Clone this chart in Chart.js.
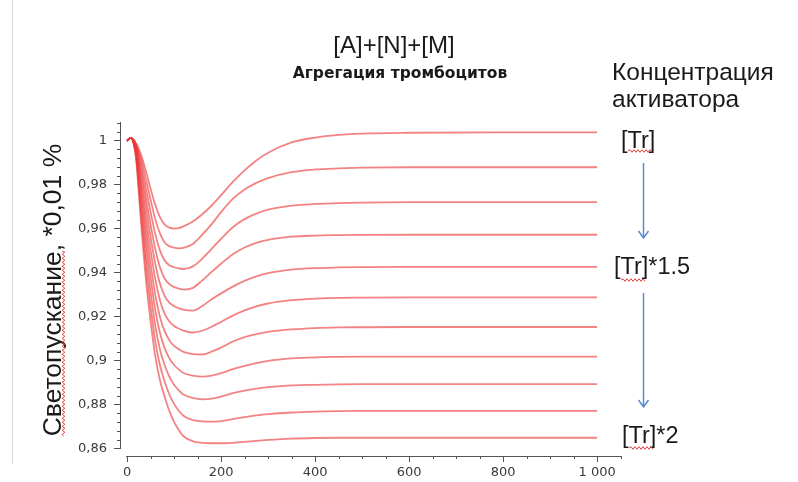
<!DOCTYPE html>
<html lang="ru">
<head>
    <meta charset="UTF-8">
    <title>Агрегация тромбоцитов</title>
    <script src="https://cdn.jsdelivr.net/npm/chart.js"></script>
    <style>
        html, body {
            margin: 0;
            padding: 0;
            background: #fff;
        }
        .chart-box {
            position: relative;
            width: 798px;
            height: 482px;
        }
    </style>
</head>
<body>
    <div class="chart-box">
        <canvas id="aggChart"></canvas>
    </div>

    <script>
        // время, с
        const times = [0, 8, 15, 20, 25, 30, 35, 40, 45, 50, 60, 70, 80, 90, 100, 110, 120, 140, 160, 180, 200, 225, 250, 275, 300, 350, 400, 450, 500, 600, 800, 1000];

        // светопускание для концентраций активатора от [Tr] до [Tr]*2
        const curve1  = [1.000, 1.0013, 1.0002, 0.9985, 0.9962, 0.9935, 0.9900, 0.9862, 0.9822, 0.9782, 0.9708, 0.9652, 0.9618, 0.9604, 0.9600, 0.9602, 0.9610, 0.9632, 0.9665, 0.9705, 0.9752, 0.9812, 0.9865, 0.9910, 0.9945, 0.9992, 1.0014, 1.0026, 1.0032, 1.0036, 1.0038, 1.0038];
        const curve2  = [1.000, 1.0013, 0.9999, 0.9980, 0.9950, 0.9915, 0.9872, 0.9825, 0.9778, 0.9731, 0.9643, 0.9578, 0.9537, 0.9520, 0.9513, 0.9510, 0.9512, 0.9530, 0.9572, 0.9620, 0.9675, 0.9735, 0.9778, 0.9808, 0.9830, 0.9857, 0.9869, 0.9874, 0.9877, 0.9879, 0.9879, 0.9879];
        const curve3  = [1.000, 1.0013, 0.9998, 0.9974, 0.9935, 0.9892, 0.9840, 0.9785, 0.9730, 0.9676, 0.9576, 0.9501, 0.9455, 0.9433, 0.9424, 0.9419, 0.9416, 0.9428, 0.9463, 0.9508, 0.9553, 0.9606, 0.9643, 0.9668, 0.9686, 0.9704, 0.9712, 0.9716, 0.9718, 0.9720, 0.9720, 0.9720];
        const curve4  = [1.000, 1.0013, 0.9996, 0.9967, 0.9919, 0.9866, 0.9806, 0.9742, 0.9680, 0.9619, 0.9507, 0.9424, 0.9373, 0.9347, 0.9334, 0.9327, 0.9322, 0.9330, 0.9364, 0.9403, 0.9440, 0.9483, 0.9514, 0.9535, 0.9549, 0.9563, 0.9568, 0.9570, 0.9571, 0.9572, 0.9572, 0.9572];
        const curve5  = [1.000, 1.0013, 0.9994, 0.9960, 0.9902, 0.9839, 0.9769, 0.9698, 0.9629, 0.9562, 0.9440, 0.9350, 0.9294, 0.9263, 0.9247, 0.9238, 0.9231, 0.9227, 0.9248, 0.9278, 0.9305, 0.9336, 0.9362, 0.9382, 0.9397, 0.9413, 0.9420, 0.9423, 0.9425, 0.9426, 0.9426, 0.9426];
        const curve6  = [1.000, 1.0013, 0.9992, 0.9952, 0.9882, 0.9808, 0.9729, 0.9649, 0.9574, 0.9502, 0.9370, 0.9274, 0.9213, 0.9177, 0.9157, 0.9145, 0.9136, 0.9127, 0.9135, 0.9153, 0.9175, 0.9204, 0.9228, 0.9246, 0.9259, 0.9274, 0.9281, 0.9285, 0.9286, 0.9287, 0.9287, 0.9287];
        const curve7  = [1.000, 1.0013, 0.9989, 0.9943, 0.9861, 0.9775, 0.9686, 0.9598, 0.9516, 0.9439, 0.9299, 0.9198, 0.9133, 0.9092, 0.9066, 0.9051, 0.9039, 0.9029, 0.9027, 0.9040, 0.9058, 0.9086, 0.9106, 0.9120, 0.9130, 0.9141, 0.9147, 0.9150, 0.9151, 0.9152, 0.9152, 0.9152];
        const curve8  = [1.000, 1.0013, 0.9986, 0.9933, 0.9839, 0.9740, 0.9641, 0.9545, 0.9458, 0.9377, 0.9230, 0.9125, 0.9056, 0.9010, 0.8979, 0.8959, 0.8943, 0.8931, 0.8926, 0.8931, 0.8942, 0.8960, 0.8975, 0.8988, 0.8998, 0.9009, 0.9014, 0.9016, 0.9017, 0.9017, 0.9017, 0.9017];
        const curve9  = [1.000, 1.0013, 0.9983, 0.9923, 0.9814, 0.9702, 0.9593, 0.9488, 0.9396, 0.9311, 0.9158, 0.9050, 0.8979, 0.8926, 0.8889, 0.8864, 0.8845, 0.8829, 0.8823, 0.8826, 0.8835, 0.8851, 0.8863, 0.8872, 0.8878, 0.8886, 0.8889, 0.8891, 0.8892, 0.8892, 0.8892, 0.8892];
        const curve10 = [1.000, 1.0013, 0.9979, 0.9912, 0.9788, 0.9661, 0.9542, 0.9429, 0.9333, 0.9245, 0.9087, 0.8978, 0.8904, 0.8845, 0.8802, 0.8771, 0.8748, 0.8728, 0.8723, 0.8721, 0.8724, 0.8733, 0.8742, 0.8750, 0.8756, 0.8763, 0.8767, 0.8769, 0.8770, 0.8770, 0.8770, 0.8770];
        const curve11 = [1.000, 1.0013, 0.9975, 0.9900, 0.9760, 0.9620, 0.9490, 0.9370, 0.9270, 0.9180, 0.9020, 0.8910, 0.8835, 0.8770, 0.8720, 0.8683, 0.8655, 0.8632, 0.8625, 0.8623, 0.8623, 0.8625, 0.8629, 0.8634, 0.8638, 0.8644, 0.8647, 0.8648, 0.8648, 0.8648, 0.8648, 0.8648];

        const allCurves = [curve1, curve2, curve3, curve4, curve5, curve6, curve7, curve8, curve9, curve10, curve11];

        // деления осей
        const yMajorTicks = [0.86, 0.88, 0.9, 0.92, 0.94, 0.96, 0.98, 1];
        const xMajorTicks = [0, 200, 400, 600, 800, 1000];

        const lineColor = 'rgba(236, 55, 55, 0.62)';
        const axisColor = '#555';
        const arrowColor = '#5b8bd3';

        function formatY(v) {
            return String(+v.toFixed(2)).replace('.', ',');
        }
        function formatX(v) {
            return String(v).replace(/\B(?=(\d{3})+(?!\d))/g, ' ');
        }

        // волнистое подчеркивание (как проверка орфографии)
        function wavy(ctx, x1, y1, x2, y2) {
            const len = Math.hypot(x2 - x1, y2 - y1);
            const ux = (x2 - x1) / len, uy = (y2 - y1) / len;
            ctx.save();
            ctx.strokeStyle = '#e23c3c';
            ctx.lineWidth = 1;
            ctx.beginPath();
            let s = 0, up = true;
            ctx.moveTo(x1, y1);
            while (s < len) {
                s = Math.min(s + 2, len);
                const off = up ? -1.3 : 1.3;
                ctx.lineTo(x1 + ux * s - uy * off, y1 + uy * s + ux * off);
                up = !up;
            }
            ctx.stroke();
            ctx.restore();
        }

        function arrow(ctx, x, yFrom, yTo) {
            ctx.save();
            ctx.strokeStyle = arrowColor;
            ctx.lineWidth = 1.5;
            ctx.beginPath();
            ctx.moveTo(x, yFrom);
            ctx.lineTo(x, yTo);
            ctx.moveTo(x - 5, yTo - 7);
            ctx.lineTo(x, yTo);
            ctx.lineTo(x + 5, yTo - 7);
            ctx.stroke();
            ctx.restore();
        }

        const decorPlugin = {
            id: 'decor',
            afterDraw(chart) {
                const ctx = chart.ctx;
                const xs = chart.scales.x;
                const ys = chart.scales.y;
                const area = chart.chartArea;

                ctx.save();
                ctx.strokeStyle = axisColor;
                ctx.lineWidth = 1;
                ctx.beginPath();
                // линии осей (разнесены, как в оригинале)
                const yBottom = Math.round(ys.getPixelForValue(0.8595));
                ctx.moveTo(area.left + 0.5, area.top);
                ctx.lineTo(area.left + 0.5, yBottom);
                ctx.moveTo(Math.round(xs.getPixelForValue(-2)), area.bottom + 0.5);
                ctx.lineTo(area.right, area.bottom + 0.5);
                // малые деления
                for (let i = 0; i <= 37; i++) {
                    const v = 0.86 + i * 0.004;
                    if (i % 5 === 0) continue;
                    const py = Math.round(ys.getPixelForValue(v)) + 0.5;
                    ctx.moveTo(area.left - 3, py);
                    ctx.lineTo(area.left, py);
                }
                for (let i = 0; i <= 21; i++) {
                    if (i % 4 === 0) continue;
                    const px = Math.round(xs.getPixelForValue(i * 50)) + 0.5;
                    ctx.moveTo(px, area.bottom);
                    ctx.lineTo(px, area.bottom + 3);
                }
                ctx.stroke();

                // рамка слева
                ctx.strokeStyle = '#d6d6d6';
                ctx.beginPath();
                ctx.moveTo(12.5, 0);
                ctx.lineTo(12.5, 464);
                ctx.stroke();

                // заголовки
                ctx.fillStyle = '#1a1a1a';
                ctx.textBaseline = 'middle';
                ctx.textAlign = 'center';
                ctx.font = '24px "Liberation Sans", Arial, sans-serif';
                ctx.fillText('[A]+[N]+[M]', 394, 46);
                ctx.font = 'bold 15.5px "DejaVu Sans", sans-serif';
                ctx.fillText('Агрегация тромбоцитов', 400, 74);

                ctx.textAlign = 'left';
                ctx.font = '24.5px "Liberation Sans", Arial, sans-serif';
                ctx.fillText('Концентрация', 612, 73);
                ctx.fillText('активатора', 612, 100);

                ctx.font = '23.5px "Liberation Sans", Arial, sans-serif';
                ctx.fillText('[Tr]', 621, 142);
                ctx.fillText('[Tr]*1.5', 614, 268);
                ctx.fillText('[Tr]*2', 622, 437);
                wavy(ctx, 628, 151, 652, 151);
                wavy(ctx, 621, 280, 645, 280);
                wavy(ctx, 629, 448, 653, 448);

                arrow(ctx, 643.5, 163, 238);
                arrow(ctx, 643.5, 293, 407);

                // подпись оси Y
                const yTitle = 'Светопускание, *0,01 %';
                ctx.font = '26.5px "Liberation Sans", Arial, sans-serif';
                const fullW = ctx.measureText(yTitle).width;
                const wordW = ctx.measureText('Светопускание').width;
                ctx.save();
                ctx.translate(61, 290);
                ctx.rotate(-Math.PI / 2);
                ctx.textAlign = 'center';
                ctx.textBaseline = 'alphabetic';
                ctx.fillText(yTitle, 0, 0);
                ctx.restore();
                wavy(ctx, 63.5, 290 + fullW / 2, 63.5, 290 + fullW / 2 - wordW);

                ctx.restore();
            }
        };

        const datasets = allCurves.map((vals, i) => ({
            label: 'c' + (i + 1),
            data: times.map((t, j) => ({ x: t, y: vals[j] })),
            borderColor: lineColor,
            borderWidth: 1.8,
            pointRadius: 0,
            fill: false,
            cubicInterpolationMode: 'monotone'
        }));

        const ctx = document.getElementById('aggChart').getContext('2d');
        const aggChart = new Chart(ctx, {
            type: 'line',
            data: { datasets: datasets },
            options: {
                responsive: true,
                maintainAspectRatio: false,
                animation: false,
                events: [],
                layout: {
                    padding: { left: 0, top: 122, right: 176, bottom: 0 }
                },
                plugins: {
                    legend: { display: false },
                    tooltip: { enabled: false },
                    title: { display: false }
                },
                scales: {
                    x: {
                        type: 'linear',
                        min: -15,
                        max: 1053,
                        afterFit(scale) { scale.height = 26; },
                        afterBuildTicks(scale) {
                            scale.ticks = xMajorTicks.map(v => ({ value: v }));
                        },
                        border: { display: false },
                        grid: { drawOnChartArea: false, drawTicks: true, tickLength: 6, color: axisColor },
                        ticks: {
                            padding: 3,
                            maxRotation: 0,
                            color: '#3a3a3a',
                            font: { family: '"DejaVu Sans", sans-serif', size: 13 },
                            callback: v => formatX(v)
                        }
                    },
                    y: {
                        min: 0.8565,
                        max: 1.0085,
                        afterFit(scale) { scale.width = 120; },
                        afterBuildTicks(scale) {
                            scale.ticks = yMajorTicks.map(v => ({ value: v }));
                        },
                        border: { display: false },
                        grid: { drawOnChartArea: false, drawTicks: true, tickLength: 6, color: axisColor },
                        ticks: {
                            padding: 7,
                            color: '#3a3a3a',
                            font: { family: '"DejaVu Sans", sans-serif', size: 13 },
                            callback: v => formatY(v)
                        }
                    }
                }
            },
            plugins: [decorPlugin]
        });
    </script>
</body>
</html>
